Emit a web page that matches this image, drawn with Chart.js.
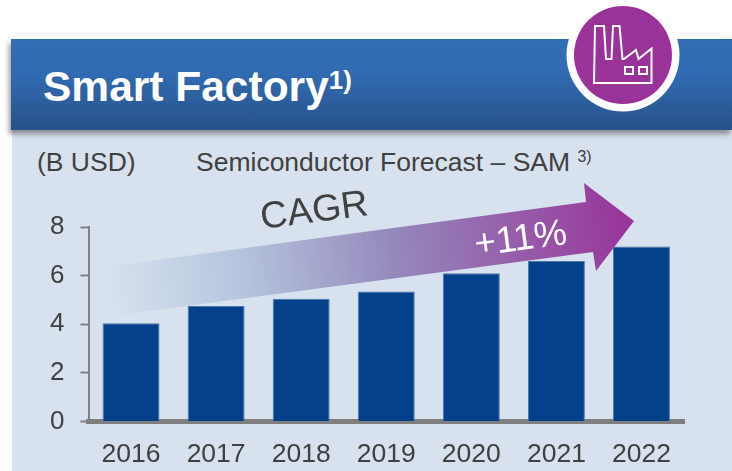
<!DOCTYPE html>
<html>
<head>
<meta charset="utf-8">
<script src="https://cdn.jsdelivr.net/npm/chart.js@4"></script>
<style>
  html, body { margin: 0; padding: 0; background: #fff; }
  body { width: 732px; height: 471px; overflow: hidden; position: relative; font-family: "Liberation Sans", Arial, sans-serif; }
  .panel { position: absolute; left: 12px; top: 130px; width: 720px; height: 341px; background: #d8e2ef; }
  .header {
    position: absolute; left: 11px; top: 39px; width: 721px; height: 91px;
    background: linear-gradient(#326db5 0%, #316cb3 35%, #27528a 100%);
    box-shadow: -2px 4px 5px rgba(70, 70, 70, .55);
  }
  .title { position: absolute; left: 43px; top: 63px; font-size: 42.500px; line-height: 48px; font-weight: bold; color: #fff; white-space: nowrap; }
  .title sup { font-size: 26px; line-height: 0; vertical-align: 12px; font-weight: bold; }
  .label { position: absolute; font-size: 26.500px; line-height: 30px; color: #404040; white-space: nowrap; }
  .label sup { font-size: 16px; line-height: 0; vertical-align: 9px; }
  canvas { position: absolute; left: 0; top: 0; }
  svg { position: absolute; left: 0; top: 0; }
</style>
</head>
<body>
<div class="panel"></div>
<div class="header"></div>
<div class="title">Smart Factory<sup>1)</sup></div>
<div class="label" style="left:37px;top:147px">(B USD)</div>
<div class="label" style="left:196px;top:147px">Semiconductor Forecast – SAM <sup>3)</sup></div>
<canvas id="chart" width="732" height="471"></canvas>
<svg width="732" height="471" viewBox="0 0 732 471">
  <defs>
    <linearGradient id="arrowFill" gradientUnits="userSpaceOnUse" x1="105" y1="292" x2="634" y2="221">
      <stop offset="0" stop-color="#d8e2ef"/>
      <stop offset="0.25" stop-color="#b6c6df"/>
      <stop offset="0.55" stop-color="#9488bb"/>
      <stop offset="1" stop-color="#993399"/>
    </linearGradient>
  </defs>
  <polygon points="105,267 586,202 584,183 634,221 596,271 593,252 111,316" fill="url(#arrowFill)"/>
  <text x="262" y="229" transform="rotate(-7.5 262 229)" font-size="37.500" fill="#404040" font-family="Liberation Sans">CAGR</text>
  <text x="476" y="256" transform="rotate(-7.5 476 256)" font-size="37" fill="#fff" font-family="Liberation Sans">+11%</text>
  <circle cx="623" cy="55" r="56.5" fill="#fff"/>
  <circle cx="623" cy="55" r="49" fill="#993399"/>
  <path d="M594 83 L595 26 L604 26 L606 59 L611.500 59 L613 26 L619.500 26 L622.500 59 L624 59 L636 50 L638.500 59 L651.500 48.500 L651.500 83 Z M625 67 h8 v7 h-8 Z M639 67 h8 v7 h-8 Z" fill="none" stroke="#fff" stroke-width="2"/>
</svg>
<script>
const categories = ["2016", "2017", "2018", "2019", "2020", "2021", "2022"];
const marketValues = [4.04, 4.75, 5.05, 5.35, 6.1, 6.6, 7.2];
const yTicks = [0, 2, 4, 6, 8];

new Chart(document.getElementById("chart"), {
  type: "bar",
  data: {
    labels: categories,
    datasets: [{
      data: marketValues,
      backgroundColor: "#05418a",
      borderColor: "#4a78ad",
      borderWidth: 1,
      barPercentage: 0.67,
      categoryPercentage: 1
    }]
  },
  options: {
    responsive: false,
    animation: false,
    layout: { padding: { top: 227, right: 48 } },
    plugins: { legend: { display: false }, tooltip: { enabled: false } },
    scales: {
      x: {
        afterFit: scale => { scale.height = 49.5; },
        border: { color: "#7f7f7f", width: 5 },
        grid: { display: false },
        ticks: {
          color: "#404040",
          padding: 9,
          maxRotation: 0,
          font: { family: "Liberation Sans", size: 26.5 }
        }
      },
      y: {
        min: 0,
        max: 8,
        afterFit: scale => { scale.width = 88.5; },
        afterBuildTicks: scale => { scale.ticks = yTicks.map(value => ({ value })); },
        border: { color: "#808080", width: 2 },
        grid: { drawOnChartArea: false, tickLength: 8, tickWidth: 2, tickColor: "#808080" },
        ticks: {
          color: "#404040",
          padding: 16,
          font: { family: "Liberation Sans", size: 26 }
        }
      }
    }
  }
});
</script>
</body>
</html>
